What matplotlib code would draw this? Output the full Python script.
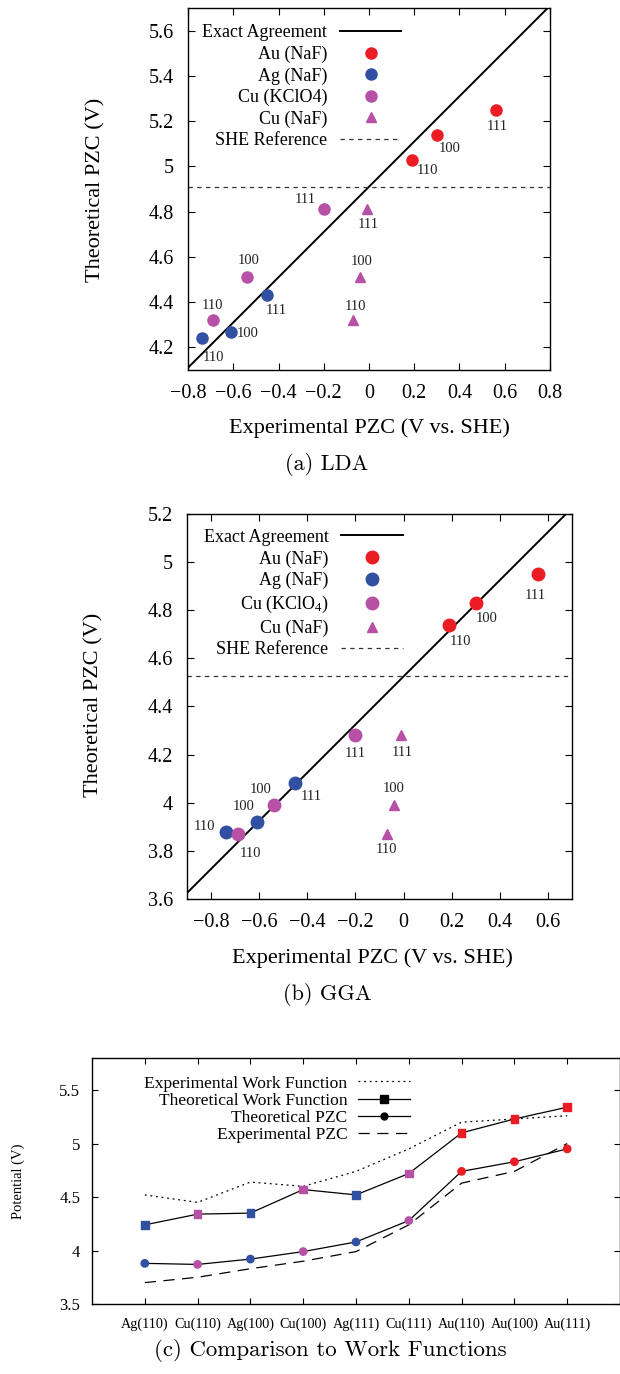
import numpy as np
import matplotlib
matplotlib.use('Agg')
import matplotlib.pyplot as plt
from matplotlib.ticker import FuncFormatter

plt.rcParams['font.family'] = ['Liberation Serif', 'DejaVu Serif']
plt.rcParams['mathtext.fontset'] = 'custom'
plt.rcParams['mathtext.rm'] = 'Liberation Serif'
plt.rcParams['mathtext.it'] = 'Liberation Serif:italic'

facets = ['110', '100', '111']

# experimental PZC (V vs. SHE)
exp_au = [0.19, 0.30, 0.56]
exp_ag = [-0.74, -0.61, -0.45]
exp_cu_kclo4 = [-0.69, -0.54, -0.20]
exp_cu_naf = [-0.07, -0.04, -0.01]

# theoretical PZC, LDA
lda_au = [5.03, 5.14, 5.25]
lda_ag = [4.24, 4.27, 4.43]
lda_cu = [4.32, 4.51, 4.81]
lda_she = 4.91

# theoretical PZC, GGA
gga_au = [4.74, 4.83, 4.95]
gga_ag = [3.88, 3.92, 4.08]
gga_cu = [3.87, 3.99, 4.28]
gga_she = 4.525

# comparison to work functions
surfaces = ['Ag(110)', 'Cu(110)', 'Ag(100)', 'Cu(100)', 'Ag(111)',
            'Cu(111)', 'Au(110)', 'Au(100)', 'Au(111)']
exp_wf = [4.52, 4.45, 4.64, 4.60, 4.74, 4.95, 5.20, 5.23, 5.26]
theo_wf = [4.24, 4.34, 4.35, 4.57, 4.52, 4.72, 5.10, 5.23, 5.34]
theo_pzc = [3.88, 3.87, 3.92, 3.99, 4.08, 4.28, 4.74, 4.83, 4.95]
exp_pzc = [3.70, 3.75, 3.83, 3.90, 3.99, 4.24, 4.63, 4.74, 5.00]

RED = '#ec1c24'
BLUE = '#3150a2'
MAG = '#b651a6'
elem_col = {'Au': RED, 'Ag': BLUE, 'Cu': MAG}

W, H = 620, 1374
fig = plt.figure(figsize=(W / 100, H / 100), dpi=100)


def box(l, t, r, b):
    return [l / W, 1 - b / H, (r - l) / W, (b - t) / H]


def fmt(v, _):
    if abs(v) < 1e-9:
        return '0'
    return ('%g' % round(v, 2)).replace('-', '\u2212')


def pzc_panel(ax, th_au, th_ag, th_cu, she, xlim, ylim, offs, ms):
    x = np.linspace(xlim[0], xlim[1], 2)
    ax.plot(x, x + she, color='black', lw=1.4, label='Exact Agreement')
    ax.plot(exp_au, th_au, 'o', color=RED, ms=ms, label='Au (NaF)')
    ax.plot(exp_ag, th_ag, 'o', color=BLUE, ms=ms, label='Ag (NaF)')
    ax.plot(exp_cu_kclo4, th_cu, 'o', color=MAG, ms=ms, label=offs['kl'])
    ax.plot(exp_cu_naf, th_cu, '^', color=MAG, ms=ms - 1.5, label='Cu (NaF)')
    ax.axhline(she, color='#333333', lw=0.9, dashes=(3.5, 3.5),
               label='SHE Reference')
    for xs, ys, key in [(exp_au, th_au, 'au'), (exp_ag, th_ag, 'ag'),
                        (exp_cu_kclo4, th_cu, 'ck'), (exp_cu_naf, th_cu, 'cn')]:
        for f, xv, yv, o in zip(facets, xs, ys, offs[key]):
            ax.annotate(f, (xv, yv), xytext=o, textcoords='offset pixels',
                        ha='center', va='center', fontsize=10.5, color='#222222')
    ax.set_xlim(*xlim)
    ax.set_ylim(*ylim)
    ax.xaxis.set_major_formatter(FuncFormatter(fmt))
    ax.yaxis.set_major_formatter(FuncFormatter(fmt))
    ax.tick_params(direction='in', top=True, right=True, length=5, width=0.8,
                   labelsize=14.5)
    ax.tick_params(axis='x', pad=10)
    ax.tick_params(axis='y', pad=10)
    for s in ax.spines.values():
        s.set_linewidth(1.0)


# (a) LDA
ax1 = fig.add_axes(box(188, 8, 550, 370))
offs_a = {'au': [(15, -11), (13, -14), (2, -17)],
          'ag': [(12, -19), (17, -2), (9, -15)],
          'ck': [(0, 15), (2, 17), (-18, 10)],
          'cn': [(2, 14), (2, 16), (2, -15)],
          'kl': 'Cu (KClO4)'}
pzc_panel(ax1, lda_au, lda_ag, lda_cu, lda_she, (-0.8, 0.8), (4.1, 5.7), offs_a, 8)
ax1.set_xticks(np.arange(-0.8, 0.81, 0.2))
ax1.set_yticks(np.arange(4.2, 5.61, 0.2))
ax1.legend(loc='upper left', bbox_to_anchor=(0.015, 0.98), frameon=False,
           markerfirst=False, fontsize=13, handlelength=3.4, handletextpad=0.7,
           labelspacing=0.24, borderpad=0, numpoints=1)
fig.text(96 / W, 1 - 190 / H, 'Theoretical PZC (V)', rotation=90,
         ha='center', va='center', fontsize=16)
fig.text(369 / W, 1 - 428 / H, 'Experimental PZC (V vs. SHE)',
         ha='center', va='center', fontsize=16)
fig.text(327 / W, 1 - 464 / H, '(a) LDA', ha='center', va='center',
         fontsize=16, family='cmr10')

# (b) GGA
ax2 = fig.add_axes(box(187, 514, 572, 899))
offs_b = {'au': [(11, -17), (11, -15), (-3, -21)],
          'ag': [(-21, 5), (-13, 15), (16, -13)],
          'ck': [(13, -19), (-13, 16), (0, -18)],
          'cn': [(0, -15), (0, 17), (1, -17)],
          'kl': 'Cu (KClO$_4$)'}
pzc_panel(ax2, gga_au, gga_ag, gga_cu, gga_she, (-0.9, 0.7), (3.6, 5.2), offs_b, 9)
ax2.set_xticks(np.arange(-0.8, 0.61, 0.2))
ax2.set_yticks(np.arange(3.6, 5.21, 0.2))
ax2.legend(loc='upper left', bbox_to_anchor=(0.02, 0.985), frameon=False,
           markerfirst=False, fontsize=13, handlelength=3.4, handletextpad=0.7,
           labelspacing=0.25, borderpad=0, numpoints=1)
fig.text(94 / W, 1 - 705 / H, 'Theoretical PZC (V)', rotation=90,
         ha='center', va='center', fontsize=16)
fig.text(372 / W, 1 - 958 / H, 'Experimental PZC (V vs. SHE)',
         ha='center', va='center', fontsize=16)
fig.text(327 / W, 1 - 995 / H, '(b) GGA', ha='center', va='center',
         fontsize=16, family='cmr10')

# (c) work functions
ax3 = fig.add_axes(box(92, 1058, 620, 1304))
xs = np.arange(1, len(surfaces) + 1)
cols = [elem_col[s[:2]] for s in surfaces]
ax3.plot(xs, exp_wf, color='black', lw=0.9, dashes=(1.5, 3),
         label='Experimental Work Function')
ax3.plot(xs, theo_wf, color='black', lw=0.9)
ax3.plot(xs, theo_pzc, color='black', lw=0.9)
ax3.plot(xs, exp_pzc, color='black', lw=0.9, dashes=(9, 6))
ax3.scatter(xs, theo_wf, marker='s', s=30, c=cols, zorder=3)
ax3.scatter(xs, theo_pzc, marker='o', s=28, c=cols, zorder=3)
# legend proxies
ax3.plot([], [], color='black', lw=0.9, marker='s', ms=5.5,
         label='Theoretical Work Function')
ax3.plot([], [], color='black', lw=0.9, marker='o', ms=5,
         label='Theoretical PZC')
ax3.plot([], [], color='black', lw=0.9, dashes=(9, 6), label='Experimental PZC')
ax3.set_xlim(0, 10)
ax3.set_ylim(3.5, 5.8)
ax3.set_xticks(xs)
ax3.set_xticklabels(surfaces)
ax3.set_yticks([3.5, 4, 4.5, 5, 5.5])
ax3.yaxis.set_major_formatter(FuncFormatter(fmt))
ax3.tick_params(axis='y', direction='in', right=True, length=4, width=0.8,
                labelsize=12, pad=8.5)
ax3.tick_params(axis='x', direction='in', top=True, length=4, width=0.8,
                labelsize=10.2, pad=10)
for s in ax3.spines.values():
    s.set_linewidth(1.0)
ax3.legend(loc='upper left', bbox_to_anchor=(0.082, 0.965), frameon=False,
           markerfirst=False, fontsize=12.6, handlelength=3.0, handletextpad=0.6,
           labelspacing=0.05, borderpad=0, numpoints=1)
fig.text(18 / W, 1 - 1181 / H, 'Potential (V)', rotation=90,
         ha='center', va='center', fontsize=10.5)
fig.text(330 / W, 1 - 1350 / H, '(c) Comparison to Work Functions',
         ha='center', va='center', fontsize=16.5, family='cmr10')

fig.savefig('out.png', dpi=100)
